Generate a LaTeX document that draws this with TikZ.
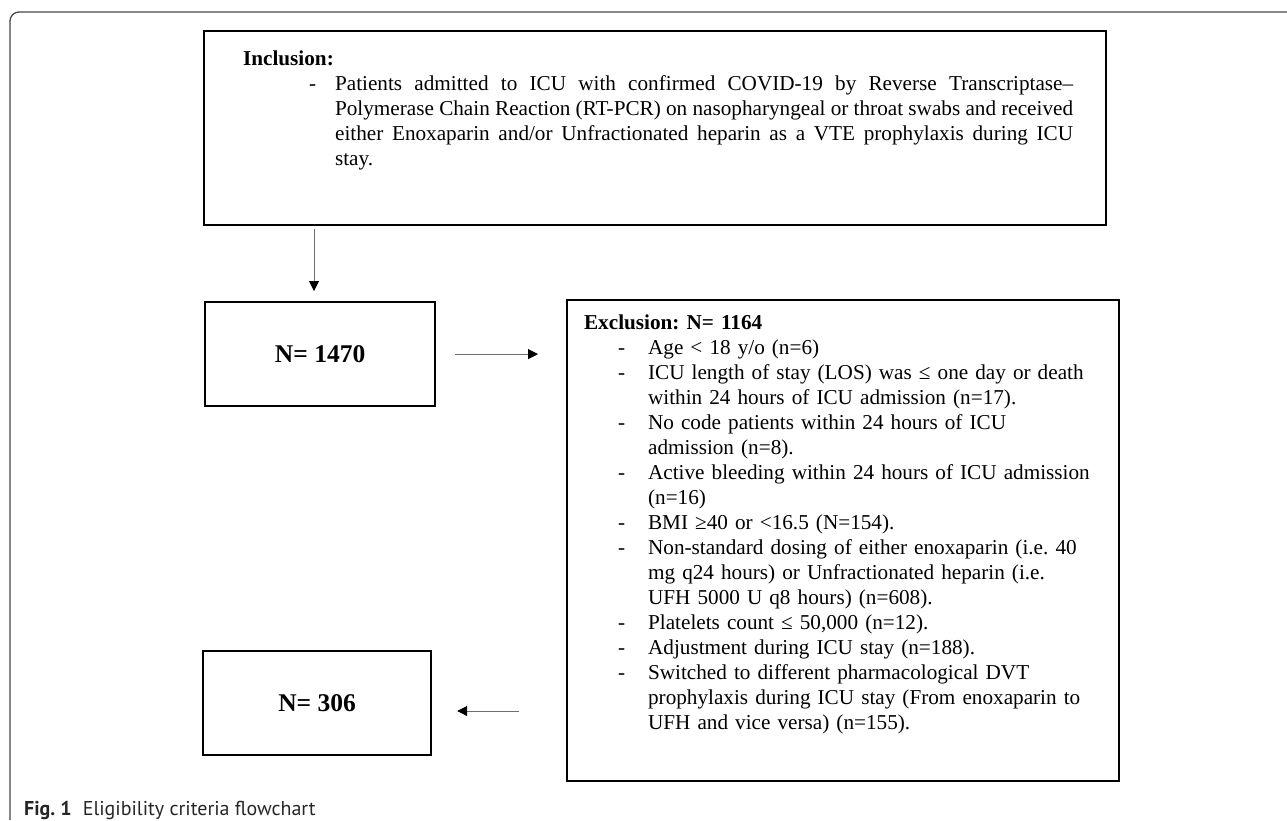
\documentclass[tikz,border=0pt]{standalone}
\usepackage{fontspec}
\setmainfont{Liberation Serif}
\newfontfamily\capfont{PT Sans}
\usetikzlibrary{arrows.meta,positioning,calc}
\definecolor{framegray}{RGB}{70,70,70}
\definecolor{arrowgray}{RGB}{110,110,110}
\newcommand{\dashitem}{\hspace*{34pt}\makebox[30pt][l]{-}}
\newcommand{\wrapline}{\hspace*{64pt}}
\frenchspacing

\begin{document}
\begin{tikzpicture}[
  x=1pt, y=-1pt,
  critbox/.style={rectangle, draw=black, line width=2.2pt, anchor=north west,
                  font=\fontsize{21.2}{25}\selectfont},
  countbox/.style={rectangle, draw=black, line width=2.2pt, anchor=north west,
                   minimum width=230pt, minimum height=104pt,
                   font=\fontsize{25.5}{30}\selectfont\bfseries},
  flow/.style={-{Triangle[length=10pt,width=10pt,color=black]}, line width=1pt, arrowgray}
]
  \useasboundingbox (0,0) rectangle (1287,820);
  \draw[framegray, line width=1.3pt, rounded corners=9pt] (10,820) -- (10,12) -- (1287,12);

  \node[critbox, inner xsep=33pt, inner ysep=19.5pt, text width=836pt, align=justify] (inc) at (203,30) {%
    \hspace*{6pt}\textbf{Inclusion:}\par
    \noindent\hangindent=98pt\hangafter=0\llap{\makebox[26pt][l]{-}}Patients admitted to ICU with confirmed COVID-19 by Reverse Transcriptase–\linebreak
    Polymerase Chain Reaction (RT-PCR) on nasopharyngeal or throat swabs and received\linebreak
    either Enoxaparin and/or Unfractionated heparin as a VTE prophylaxis during ICU\linebreak
    stay.\par
    \rule[-15.5pt]{0pt}{15.5pt}};

  \node[critbox, inner xsep=17pt, inner ysep=14.5pt, text width=518pt, align=left] (exc) at (566,299) {%
    \textbf{Exclusion: N= 1164}\\
    \dashitem Age < 18 y/o (n=6)\\
    \dashitem ICU length of stay (LOS) was ≤ one day or death\\
    \wrapline within 24 hours of ICU admission (n=17).\\
    \dashitem No code patients within 24 hours of ICU\\
    \wrapline admission (n=8).\\
    \dashitem Active bleeding within 24 hours of ICU admission\\
    \wrapline (n=16)\\
    \dashitem BMI ≥40 or <16.5 (N=154).\\
    \dashitem Non-standard dosing of either enoxaparin (i.e. 40\\
    \wrapline mg q24 hours) or Unfractionated heparin (i.e.\\
    \wrapline UFH 5000 U q8 hours) (n=608).\\
    \dashitem Platelets count ≤ 50,000 (n=12).\\
    \dashitem Adjustment during ICU stay (n=188).\\
    \dashitem Switched to different pharmacological DVT\\
    \wrapline prophylaxis during ICU stay (From enoxaparin to\\
    \wrapline UFH and vice versa) (n=155).\\
    \rule[-12.5pt]{0pt}{12.5pt}};

  \node[countbox]                       (n1470) at (204,301) {N= 1470};
  \node[countbox, minimum width=228pt]  (n306)  at (202,650) {N= 306};

  \coordinate (dropx) at (314,0);
  \coordinate (backy) at (0,711);
  \draw[flow, shorten <=3pt, shorten >=10pt] (inc.south -| dropx) -- (n1470.north -| dropx);
  \draw[flow, shorten <=19pt, shorten >=28pt] (n1470.east) -- (n1470.east -| exc.west);
  \draw[flow, shorten <=47pt, shorten >=25pt] (exc.west |- backy) -- (n306.east |- backy);

  \node[anchor=base west, inner sep=0pt, text=black!85,
        font=\capfont\fontsize{20}{24}\selectfont] (cap) at (24,815)
        {\textbf{Fig. 1}\hspace{11pt}Eligibility criteria flowchart};
\end{tikzpicture}
\end{document}
